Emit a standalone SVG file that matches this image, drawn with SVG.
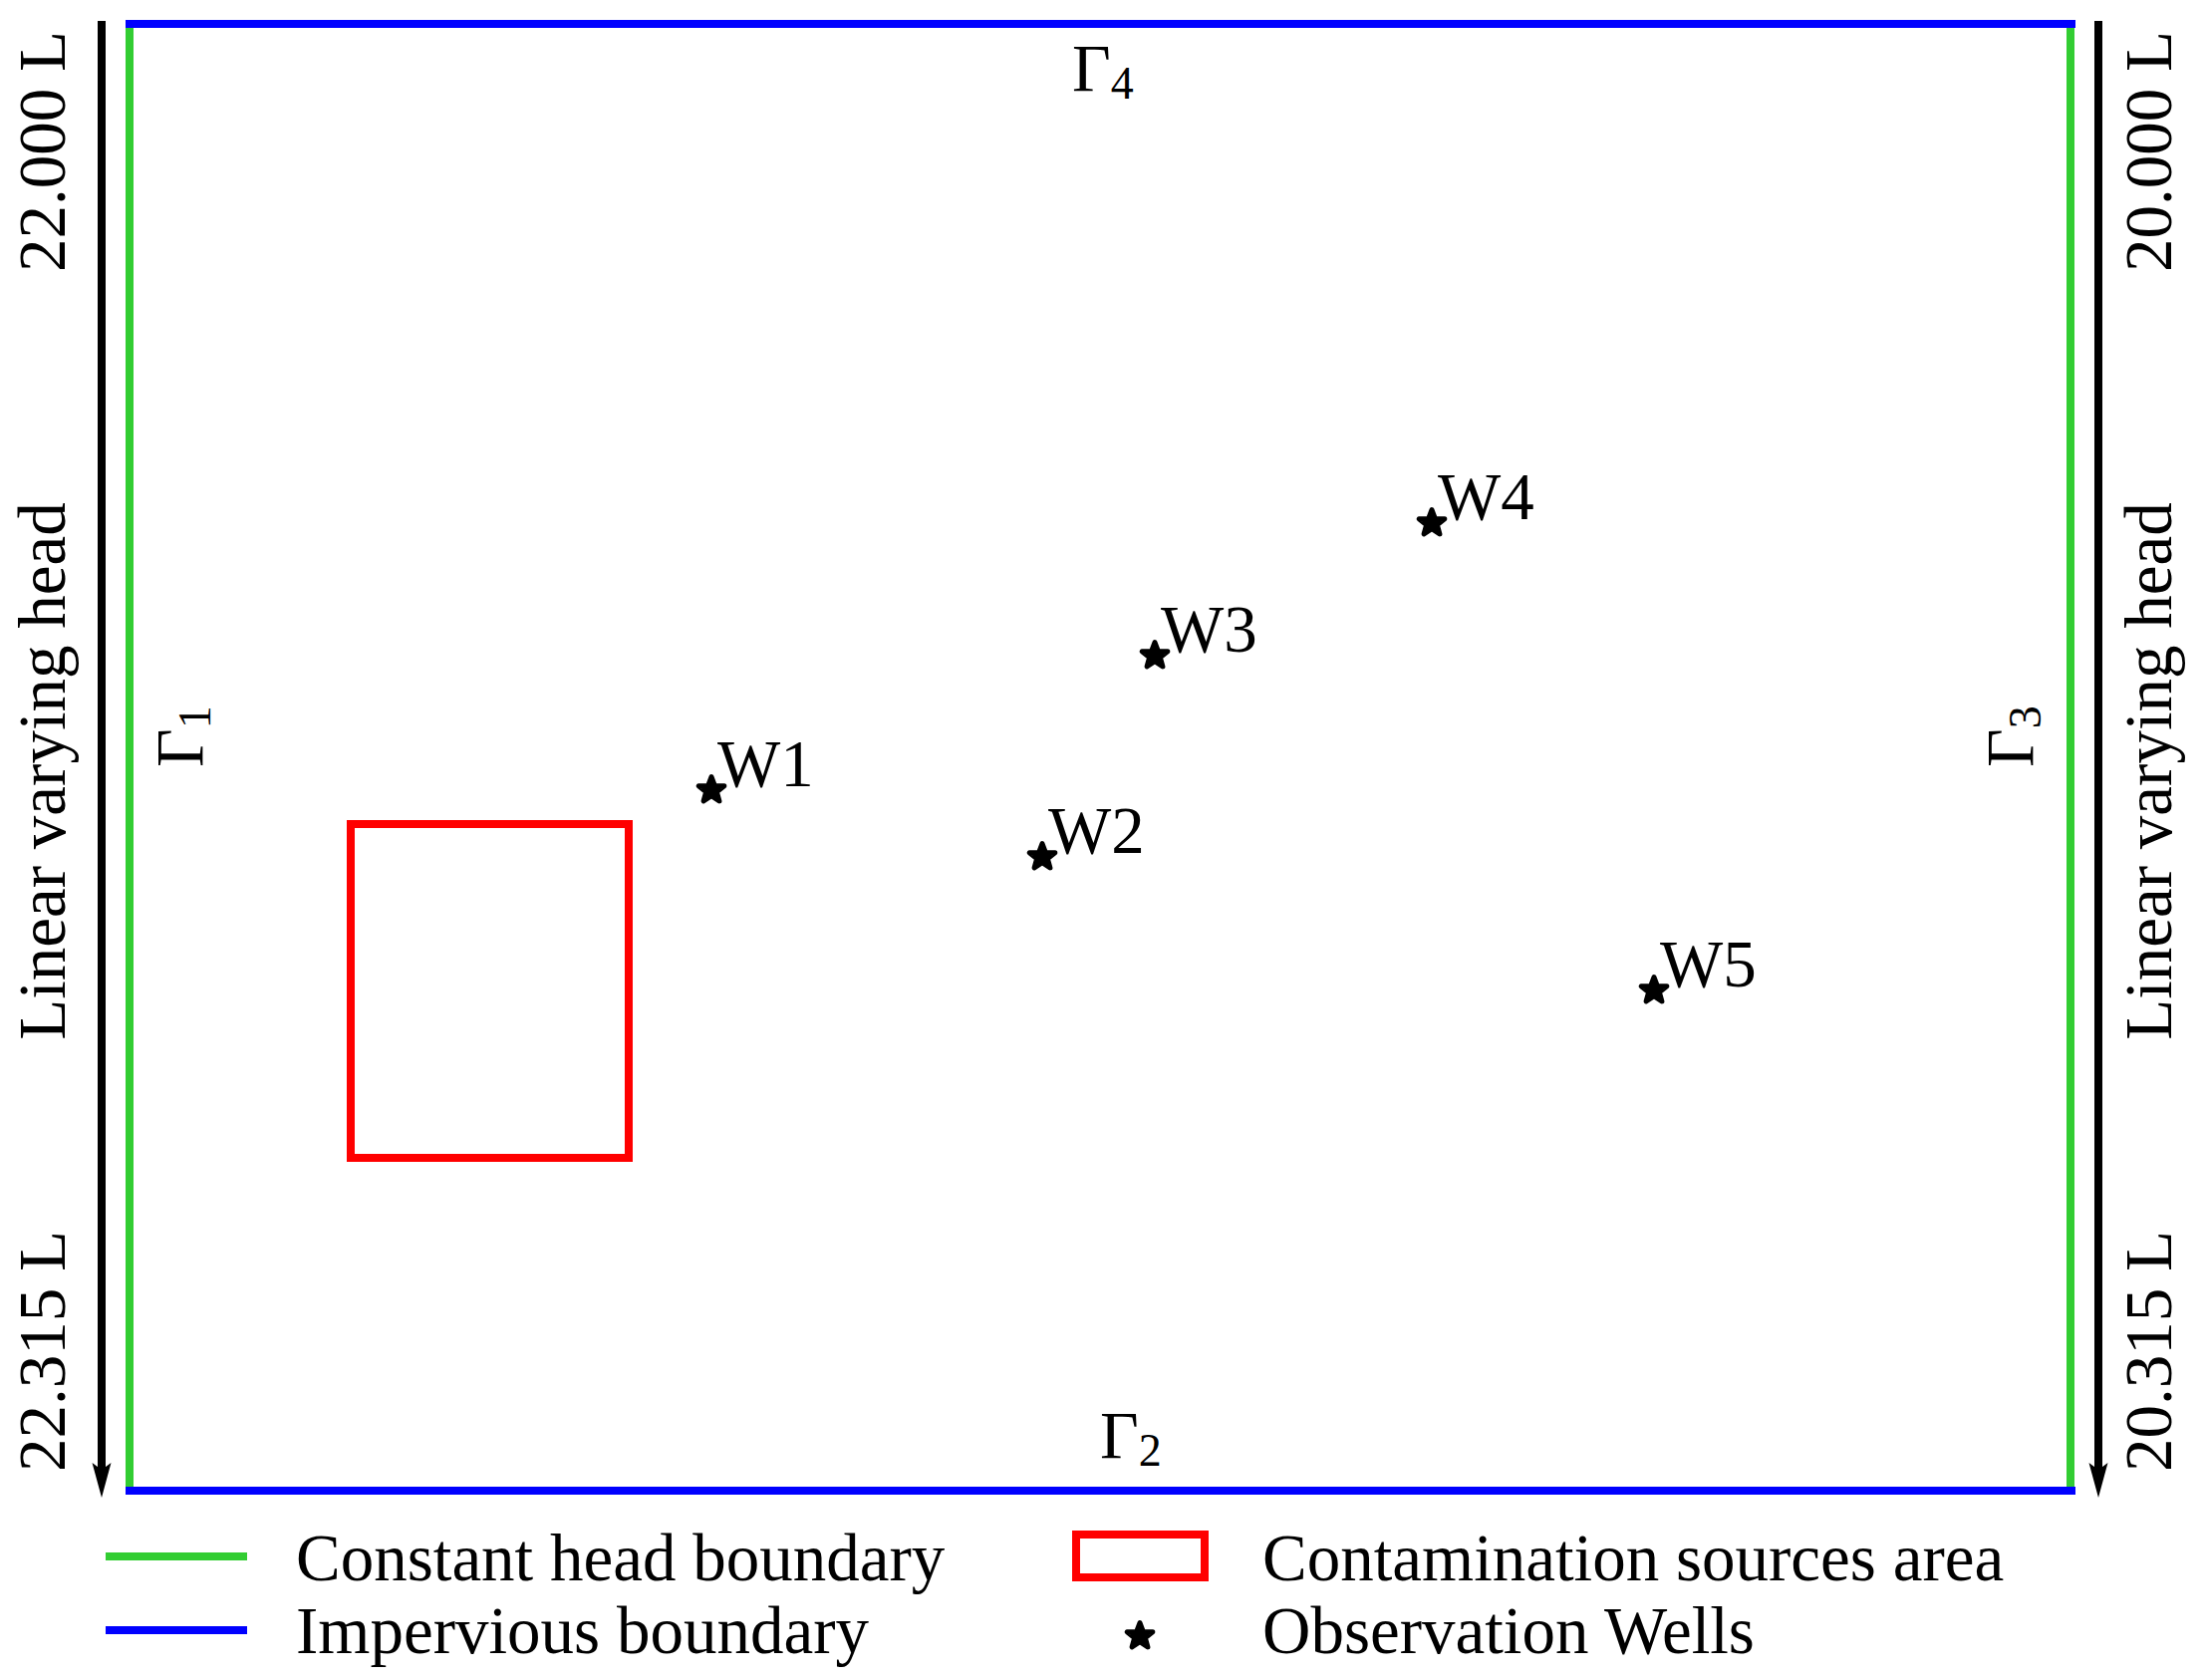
<svg xmlns="http://www.w3.org/2000/svg" xmlns:xlink="http://www.w3.org/1999/xlink" width="2214" height="1686" viewBox="0 0 2214 1686">
  <style>
    .t { font-family: "Liberation Serif", "Times New Roman", Times, Tinos, "Nimbus Roman", "DejaVu Serif", serif; font-size: 67px; fill: #000; }
    .sub { font-size: 46px; }
    .green { stroke: #32cd32; stroke-width: 8; fill: none; }
    .blue { stroke: #0000ff; stroke-width: 8; fill: none; }
    .red { stroke: #ff0000; stroke-width: 8; fill: none; }
    .axis { stroke: #000; stroke-width: 8; fill: none; }
    .star { fill: #000; stroke: #000; stroke-width: 5; stroke-linejoin: round; }
  </style>
  <defs>
    <marker id="arrow" markerUnits="userSpaceOnUse" viewBox="0 -10 36 20" refX="7" refY="0" markerWidth="36" markerHeight="20" orient="auto">
      <path d="M35,0 L0,-9.5 L7,0 L0,9.5 Z" fill="#000"/>
    </marker>
    <path id="star" d="M0,-13.5 L3.3,-4.55 L12.84,-4.17 L5.35,1.74 L7.93,10.92 L0,5.63 L-7.93,10.92 L-5.35,1.74 L-12.84,-4.17 L-3.3,-4.55 Z"/>
  </defs>
  <rect width="2214" height="1686" fill="#fff"/>

  <g id="boundaries">
    <line class="green" x1="130" y1="26" x2="130" y2="1494"/>
    <line class="green" x1="2078" y1="26" x2="2078" y2="1494"/>
    <line class="blue" x1="126" y1="24" x2="2083" y2="24"/>
    <line class="blue" x1="126" y1="1496" x2="2083" y2="1496"/>
  </g>

  <g id="connectors">
    <line class="axis" x1="102" y1="21" x2="102" y2="1475" marker-end="url(#arrow)"/>
    <line class="axis" x1="2106" y1="21" x2="2106" y2="1475" marker-end="url(#arrow)"/>
  </g>

  <g id="left-labels">
    <text class="t" transform="translate(65,152) rotate(-90)" text-anchor="middle">22.000 L</text>
    <text class="t" transform="translate(65,774) rotate(-90)" text-anchor="middle">Linear varying head</text>
    <text class="t" transform="translate(65,1356) rotate(-90)" text-anchor="middle">22.315 L</text>
    <text class="t" transform="translate(203,770) rotate(-90)">Γ<tspan class="sub" dy="8">1</tspan></text>
  </g>

  <g id="right-labels">
    <text class="t" transform="translate(2179,152) rotate(-90)" text-anchor="middle">20.000 L</text>
    <text class="t" transform="translate(2179,774) rotate(-90)" text-anchor="middle">Linear varying head</text>
    <text class="t" transform="translate(2179,1356) rotate(-90)" text-anchor="middle">20.315 L</text>
    <text class="t" transform="translate(2040,770) rotate(-90)">Γ<tspan class="sub" dy="8">3</tspan></text>
  </g>

  <g id="gamma4"><text class="t" x="1076" y="91">Γ<tspan class="sub" dy="8">4</tspan></text></g>
  <g id="gamma2"><text class="t" x="1104" y="1463">Γ<tspan class="sub" dy="8">2</tspan></text></g>

  <g id="source-area">
    <rect class="red" x="352" y="827" width="279" height="335"/>
  </g>

  <g id="well-W1"><use xlink:href="#star" class="star" x="714" y="793"/><text class="t" x="720" y="789">W1</text></g>
  <g id="well-W2"><use xlink:href="#star" class="star" x="1046" y="860"/><text class="t" x="1052" y="856">W2</text></g>
  <g id="well-W3"><use xlink:href="#star" class="star" x="1159" y="658"/><text class="t" x="1165" y="654">W3</text></g>
  <g id="well-W4"><use xlink:href="#star" class="star" x="1437" y="525"/><text class="t" x="1443" y="521">W4</text></g>
  <g id="well-W5"><use xlink:href="#star" class="star" x="1660" y="994"/><text class="t" x="1666" y="990">W5</text></g>

  <g id="legend">
    <line class="green" x1="106" y1="1562" x2="248" y2="1562"/>
    <text class="t" x="297" y="1586">Constant head boundary</text>
    <line class="blue" x1="106" y1="1636" x2="248" y2="1636"/>
    <text class="t" x="297" y="1659">Impervious boundary</text>
    <rect class="red" x="1080" y="1540" width="129" height="43"/>
    <text class="t" x="1267" y="1586">Contamination sources area</text>
    <use xlink:href="#star" class="star" x="1144" y="1642"/>
    <text class="t" x="1267" y="1659">Observation Wells</text>
  </g>
</svg>
